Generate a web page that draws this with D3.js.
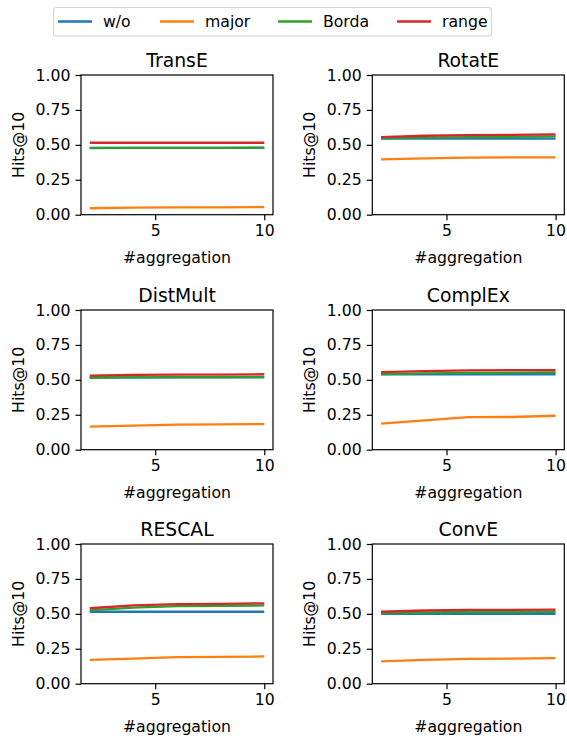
<!DOCTYPE html>
<meta charset="utf-8">
<script src="https://d3js.org/d3.v7.min.js"></script>
<style>
body { margin: 0; background: #fff; }
text { font-family: "DejaVu Sans", sans-serif; fill: #000; }
</style>
<body></body>
<script>

// data
var aggregation = [2, 4, 6, 8, 10];
var models = ["TransE", "RotatE", "DistMult", "ComplEx", "RESCAL", "ConvE"];
var seriesNames = ["w/o", "major", "Borda", "range"];
var colors = ["#1f77b4", "#ff7f0e", "#2ca02c", "#d62728"];

var wo = [
  [0.478, 0.478, 0.478, 0.478, 0.478],
  [0.545, 0.545, 0.545, 0.545, 0.545],
  [0.518, 0.518, 0.518, 0.518, 0.518],
  [0.540, 0.540, 0.540, 0.540, 0.540],
  [0.515, 0.515, 0.515, 0.515, 0.515],
  [0.500, 0.500, 0.500, 0.500, 0.500]
];
var major = [
  [0.046, 0.050, 0.052, 0.053, 0.054],
  [0.396, 0.403, 0.408, 0.410, 0.411],
  [0.165, 0.172, 0.180, 0.181, 0.183],
  [0.187, 0.210, 0.233, 0.234, 0.243],
  [0.170, 0.180, 0.190, 0.192, 0.195],
  [0.160, 0.170, 0.178, 0.180, 0.183]
];
var borda = [
  [0.477, 0.478, 0.479, 0.479, 0.480],
  [0.548, 0.552, 0.555, 0.557, 0.560],
  [0.515, 0.518, 0.520, 0.520, 0.521],
  [0.541, 0.546, 0.550, 0.551, 0.553],
  [0.525, 0.545, 0.555, 0.558, 0.560],
  [0.505, 0.510, 0.514, 0.515, 0.515]
];
var range_ = [
  [0.515, 0.515, 0.515, 0.515, 0.515],
  [0.555, 0.565, 0.570, 0.572, 0.575],
  [0.530, 0.535, 0.538, 0.538, 0.540],
  [0.555, 0.563, 0.568, 0.569, 0.570],
  [0.540, 0.560, 0.570, 0.572, 0.575],
  [0.515, 0.524, 0.528, 0.529, 0.530]
];
var yTicks = [0, 0.25, 0.5, 0.75, 1];
var xTicks = [5, 10];

var W = 567, H = 738;
var svg = d3.select("body").append("svg")
  .attr("width", W)
  .attr("height", H);

var colLeft = [81, 372.3];
var rowTop = [75, 310, 544];
var pw = 192, ph = 139.7;

var xScale = d3.scaleLinear().domain([1.6, 10.4]).range([0, pw]);
var yScale = d3.scaleLinear().domain([0, 1]).range([ph, 0]);

var line = d3.line()
  .x(function(d, i) { return xScale(aggregation[i]); })
  .y(function(d) { return yScale(d); });

var fs = 15.7;

models.forEach(function(name, k) {
  var g = svg.append("g")
    .attr("transform", "translate(" + colLeft[k % 2] + "," + rowTop[Math.floor(k / 2)] + ")");

  var xAxis = d3.axisBottom(xScale).tickValues(xTicks).tickSize(5.5).tickPadding(5);
  var yAxis = d3.axisLeft(yScale).tickValues(yTicks).tickSize(5.5).tickPadding(5)
    .tickFormat(d3.format(".2f"));

  var xg = g.append("g").attr("transform", "translate(0," + ph + ")").call(xAxis);
  var yg = g.append("g").call(yAxis);
  [xg, yg].forEach(function(a) {
    a.select(".domain").remove();
    a.selectAll("line").attr("stroke", "#000").attr("stroke-width", 1.2);
    a.selectAll("text").style("font-size", fs + "px").style("font-family", "DejaVu Sans");
  });

  var all = [wo[k], major[k], borda[k], range_[k]];
  all.forEach(function(vals, s) {
    g.append("path")
      .datum(vals)
      .attr("d", line)
      .attr("fill", "none")
      .attr("stroke", colors[s])
      .attr("stroke-width", 2.3);
  });

  g.append("rect")
    .attr("width", pw).attr("height", ph)
    .attr("fill", "none")
    .attr("stroke", "#000")
    .attr("stroke-width", 1.2);

  g.append("text")
    .attr("x", pw / 2).attr("y", -8.5)
    .attr("text-anchor", "middle")
    .style("font-size", "18.8px")
    .text(name);

  g.append("text")
    .attr("x", pw / 2).attr("y", ph + 48.5)
    .attr("text-anchor", "middle")
    .style("font-size", fs + "px")
    .text("#aggregation");

  g.append("text")
    .attr("transform", "translate(-57," + (ph / 2) + ") rotate(-90)")
    .attr("text-anchor", "middle")
    .style("font-size", fs + "px")
    .text("Hits@10");
});

// legend
var leg = svg.append("g");
leg.append("rect")
  .attr("x", 53.5).attr("y", 7.5)
  .attr("width", 438).attr("height", 28.5)
  .attr("rx", 3)
  .attr("fill", "#fff")
  .attr("stroke", "#d6d6d6")
  .attr("stroke-width", 1.2);

var legX = [58, 160, 278, 397];
seriesNames.forEach(function(n, i) {
  leg.append("line")
    .attr("x1", legX[i]).attr("x2", legX[i] + 34)
    .attr("y1", 21.5).attr("y2", 21.5)
    .attr("stroke", colors[i])
    .attr("stroke-width", 2.3);
  leg.append("text")
    .attr("x", legX[i] + 45).attr("y", 27)
    .style("font-size", fs + "px")
    .text(n);
});

</script>
